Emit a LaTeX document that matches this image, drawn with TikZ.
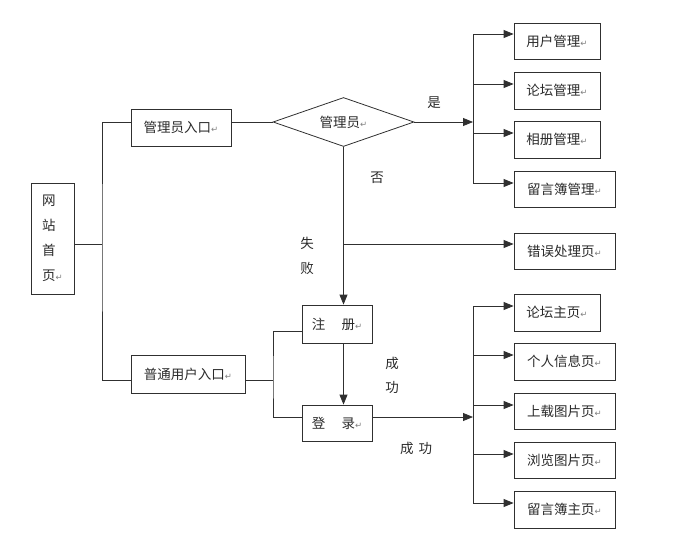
\documentclass[tikz,border=0pt]{standalone}
\usepackage{fontspec}
\setmainfont{Noto Sans CJK SC}
\newfontfamily\dvsfont{DejaVu Sans}
\usetikzlibrary{arrows.meta,shapes.geometric}
\definecolor{ink}{HTML}{2A2A2A}
\definecolor{lne}{HTML}{303030}
\newcommand{\rmk}{{\dvsfont\fontsize{8.5}{9}\selectfont\color{gray}↵}}
\begin{document}
\begin{tikzpicture}[x=1pt,y=-1pt,
  font=\fontsize{13.5}{16}\selectfont, text=ink,
  box/.style={draw=lne, line width=0.8pt, inner sep=0pt, rectangle},
  conn/.style={draw=lne, line width=0.8pt},
  arr/.style={conn, -{Triangle[length=10pt,width=8pt]}},
  lbl/.style={inner sep=0pt}]
\useasboundingbox (0,0) rectangle (693,541);
% nodes
\node[box, minimum width=43pt, minimum height=111pt, align=left,
  font=\fontsize{13.5}{25}\selectfont] (home) at (52.5,238.5) {网\\站\\首\\页\rmk};
\node[box, minimum width=100pt, minimum height=37pt] (admin) at (181,127.5) {管理员入口\rmk};
\node[box, minimum width=114pt, minimum height=38pt] (user) at (188,374) {普通用户入口\rmk};
\node[draw=lne, line width=0.8pt, diamond, aspect=2.9, inner sep=0pt, minimum width=141pt, minimum height=49pt] (dia) at (343.5,122) {管理员\rmk};
\node[box, minimum width=70pt, minimum height=38pt] (reg) at (337,324) {注\hspace{1.2em}册\rmk};
\node[box, minimum width=70pt, minimum height=36pt] (login) at (337,423) {登\hspace{1.2em}录\rmk};
\node[box, minimum width=86pt, minimum height=36pt] (m1) at (557,41) {用户管理\rmk};
\node[box, minimum width=86pt, minimum height=37pt] (m2) at (557,90.5) {论坛管理\rmk};
\node[box, minimum width=86pt, minimum height=37pt] (m3) at (557,139.5) {相册管理\rmk};
\node[box, minimum width=101pt, minimum height=36pt] (m4) at (564.5,189) {留言簿管理\rmk};
\node[box, minimum width=101pt, minimum height=36pt] (err) at (564.5,251) {错误处理页\rmk};
\node[box, minimum width=86pt, minimum height=37pt] (p1) at (557,312.5) {论坛主页\rmk};
\node[box, minimum width=101pt, minimum height=37pt] (p2) at (564.5,361.5) {个人信息页\rmk};
\node[box, minimum width=101pt, minimum height=36pt] (p3) at (564.5,411) {上载图片页\rmk};
\node[box, minimum width=101pt, minimum height=36pt] (p4) at (564.5,460) {浏览图片页\rmk};
\node[box, minimum width=101pt, minimum height=37pt] (p5) at (564.5,509.5) {留言簿主页\rmk};
% labels
\node[lbl] (lyes) at (434,103) {是};
\node[lbl] (lno) at (377,178) {否};
\node[lbl, align=center, font=\fontsize{13.5}{25}\selectfont] (lfail) at (307,255.5) {失\\败};
\node[lbl, align=center, font=\fontsize{13.5}{24}\selectfont] (lok1) at (392,375) {成\\功};
\node[lbl] (lok2) at (416,448) {成\hspace{5pt}功};
% junction coordinates
\coordinate (ja) at (102,244);
\coordinate (jb) at (473,122);
\coordinate (jc) at (344,244);
\coordinate (jd) at (273,380);
\coordinate (je) at (473,417);
% left tree
\draw[conn] ([yshift=-5.5pt]home.east) -- (ja);
\draw[conn] ([yshift=5.5pt]admin.west) -| (ja) |- ([yshift=-6pt]user.west);
% admin path
\draw[conn] ([yshift=5.5pt]admin.east) -- (dia.west);
\draw[arr] (dia.east) -- (jb);
\draw[conn] ([yshift=7pt]m1.west -| jb) -- ([yshift=6pt]m4.west -| jb);
\draw[arr] ([yshift=7pt]m1.west -| jb) -- ([yshift=7pt]m1.west);
\draw[arr] ([yshift=6.5pt]m2.west -| jb) -- ([yshift=6.5pt]m2.west);
\draw[arr] ([yshift=6.5pt]m3.west -| jb) -- ([yshift=6.5pt]m3.west);
\draw[arr] ([yshift=6pt]m4.west -| jb) -- ([yshift=6pt]m4.west);
% no-branch
\draw[arr] (dia.south) -- (dia.south |- reg.north);
\draw[arr] (jc) -- ([yshift=7pt]err.west);
\draw[arr] (dia.south |- reg.south) -- (dia.south |- login.north);
% user path
\draw[conn] ([yshift=-6pt]user.east) -- (jd);
\draw[conn] ([yshift=-7pt]reg.west) -| (jd) |- ([yshift=6pt]login.west);
% login to pages
\draw[arr] ([yshift=6pt]login.east) -- (je);
\draw[conn] ([yshift=6.5pt]p1.west -| je) -- ([yshift=6.5pt]p5.west -| je);
\draw[arr] ([yshift=6.5pt]p1.west -| je) -- ([yshift=6.5pt]p1.west);
\draw[arr] ([yshift=6.5pt]p2.west -| je) -- ([yshift=6.5pt]p2.west);
\draw[arr] ([yshift=6pt]p3.west -| je) -- ([yshift=6pt]p3.west);
\draw[arr] ([yshift=6pt]p4.west -| je) -- ([yshift=6pt]p4.west);
\draw[arr] ([yshift=6.5pt]p5.west -| je) -- ([yshift=6.5pt]p5.west);
\end{tikzpicture}
\end{document}
